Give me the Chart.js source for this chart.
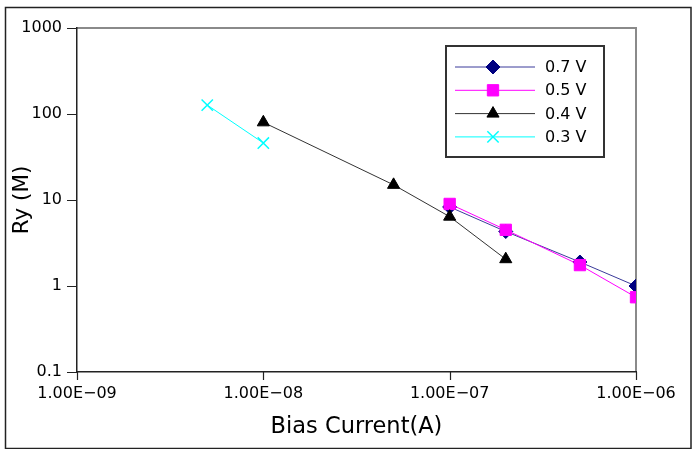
<!DOCTYPE html>
<html>
<head>
<meta charset="utf-8">
<script src="https://cdn.jsdelivr.net/npm/chart.js@4"></script>
<style>
  html, body { margin: 0; padding: 0; background: #fff; }
  #wrap { width: 696px; height: 449px; }
</style>
</head>
<body>
<div id="wrap"><canvas id="chart1" width="696" height="449"></canvas></div>
<script>
// Bias current (A) for each series
var current07 = [1e-7, 2e-7, 5e-7, 1e-6];
var current05 = [1e-7, 2e-7, 5e-7, 1e-6];
var current04 = [1e-8, 5e-8, 1e-7, 2e-7];
var current03 = [5e-9, 1e-8];

// Ry (M) values
var ry07 = [8.3, 4.3, 1.9, 1.0];
var ry05 = [9.0, 4.5, 1.75, 0.74];
var ry04 = [80, 15, 6.4, 2.05];
var ry03 = [127, 46];

var seriesNames = ["0.7 V", "0.5 V", "0.4 V", "0.3 V"];
var xTicks = [1e-9, 1e-8, 1e-7, 1e-6];
var xTickLabels = ["1.00E\u221209", "1.00E\u221208", "1.00E\u221207", "1.00E\u221206"];
var yTicks = [0.1, 1, 10, 100, 1000];
var yTickLabels = ["0.1", "1", "10", "100", "1000"];

function toPoints(xs, ys) {
  return xs.map(function (x, i) { return { x: x, y: ys[i] }; });
}

const FONT = "'DejaVu Sans', Verdana, sans-serif";

const ctx1 = document.getElementById("chart1");

var myChart = new Chart(ctx1, {
  type: "scatter",
  data: {
    datasets: [
      {
        label: seriesNames[0],
        data: toPoints(current07, ry07),
        showLine: true,
        borderColor: "#3a3a9a",
        borderWidth: 1,
        pointStyle: "rectRot",
        pointRadius: 7,
        pointBackgroundColor: "#000080",
        pointBorderColor: "#000080",
        order: 4,
      },
      {
        label: seriesNames[1],
        data: toPoints(current05, ry05),
        showLine: true,
        borderColor: "#ff00ff",
        borderWidth: 1,
        pointStyle: "rect",
        pointRadius: 8,
        pointBackgroundColor: "#ff00ff",
        pointBorderColor: "#ff00ff",
        order: 3,
      },
      {
        label: seriesNames[2],
        data: toPoints(current04, ry04),
        showLine: true,
        borderColor: "#333333",
        borderWidth: 1,
        pointStyle: "triangle",
        pointRadius: 7,
        pointBackgroundColor: "#000000",
        pointBorderColor: "#000000",
        order: 2,
      },
      {
        label: seriesNames[3],
        data: toPoints(current03, ry03),
        showLine: true,
        borderColor: "#00ffff",
        borderWidth: 1,
        pointStyle: "crossRot",
        pointRadius: 8,
        pointBorderWidth: 1.5,
        pointBackgroundColor: "#00ffff",
        pointBorderColor: "#00ffff",
        order: 1,
      },
    ],
  },
  options: {
    responsive: false,
    animation: false,
    layout: {
      padding: { top: 28, right: 60, left: 0, bottom: 0 },
    },
    plugins: {
      legend: { display: false },
      tooltip: { enabled: false },
    },
    scales: {
      x: {
        type: "logarithmic",
        min: 1e-9,
        max: 1e-6,
        afterBuildTicks: function (scale) {
          scale.ticks = xTicks.map(function (v) { return { value: v }; });
        },
        afterFit: function (scale) {
          scale.height = 77;
        },
        border: { color: "#222", width: 1.5 },
        grid: { display: false },
        ticks: {
          autoSkip: false,
          maxRotation: 0,
          padding: 4,
          color: "#000",
          font: { family: FONT, size: 16 },
          callback: function (value) {
            return xTickLabels[xTicks.indexOf(value)];
          },
        },
        title: {
          display: true,
          text: "Bias Current(A)",
          color: "#000",
          font: { family: FONT, size: 22.5 },
          padding: { bottom: 8 },
        },
      },
      y: {
        type: "logarithmic",
        min: 0.1,
        max: 1000,
        afterBuildTicks: function (scale) {
          scale.ticks = yTicks.map(function (v) { return { value: v }; });
        },
        afterFit: function (scale) {
          scale.width = 77;
        },
        border: { color: "#222", width: 1.5 },
        grid: { display: false },
        ticks: {
          autoSkip: false,
          padding: 7,
          color: "#000",
          font: { family: FONT, size: 16 },
          callback: function (value) {
            return yTickLabels[yTicks.indexOf(value)];
          },
        },
        title: {
          display: true,
          text: "Ry (M)",
          color: "#000",
          font: { family: FONT, size: 21.5 },
          padding: { top: 10 },
        },
      },
    },
  },
  plugins: [
    {
      id: "frameAndLegend",
      beforeDraw: (chart) => {
        const { ctx, chartArea: { left, right, top, bottom } } = chart;
        ctx.save();
        ctx.fillStyle = "#fff";
        ctx.fillRect(0, 0, chart.width, chart.height);
        //Outer border round the whole picture
        ctx.strokeStyle = "#222";
        ctx.lineWidth = 1.5;
        ctx.strokeRect(5.5, 7.5, 685.5, 441);
        //Top and right side of plot area in gray
        ctx.strokeStyle = "#8a8a8a";
        ctx.lineWidth = 2;
        ctx.beginPath();
        ctx.moveTo(left, top);
        ctx.lineTo(right, top);
        ctx.lineTo(right, bottom);
        ctx.stroke();
        ctx.restore();
      },
      afterDraw: (chart) => {
        const { ctx, chartArea: { left, bottom } } = chart;
        const xs = chart.scales.x, ys = chart.scales.y;
        ctx.save();
        //Tick marks outside the plot area
        ctx.strokeStyle = "#222";
        ctx.lineWidth = 1.2;
        ctx.beginPath();
        xTicks.forEach(function (v) {
          const px = Math.round(xs.getPixelForValue(v)) + 0.5;
          ctx.moveTo(px, bottom);
          ctx.lineTo(px, bottom + 8);
        });
        yTicks.forEach(function (v) {
          const py = Math.round(ys.getPixelForValue(v)) + 0.5;
          ctx.moveTo(left - 10, py);
          ctx.lineTo(left, py);
        });
        ctx.stroke();

        //Legend box drawn inside the plot area
        const bx = 446, by = 46, bw = 158, bh = 111;
        ctx.fillStyle = "#fff";
        ctx.fillRect(bx, by, bw, bh);
        ctx.strokeStyle = "#333";
        ctx.lineWidth = 2;
        ctx.strokeRect(bx, by, bw, bh);
        chart.data.datasets.forEach(function (ds, i) {
          const yy = 67 + i * 23.3;
          ctx.strokeStyle = ds.borderColor;
          ctx.lineWidth = 1;
          ctx.beginPath();
          ctx.moveTo(455, yy);
          ctx.lineTo(535, yy);
          ctx.stroke();
          ctx.fillStyle = ds.pointBackgroundColor;
          ctx.strokeStyle = ds.pointBorderColor;
          ctx.lineWidth = ds.pointBorderWidth || 1;
          Chart.helpers.drawPoint(ctx, {
            pointStyle: ds.pointStyle,
            radius: ds.pointRadius,
            borderWidth: ds.pointBorderWidth || 1,
            rotation: 0,
          }, 493, yy);
          ctx.fillStyle = "#000";
          ctx.font = "16px " + FONT;
          ctx.textBaseline = "middle";
          ctx.fillText(ds.label, 545, yy + 1);
        });
        ctx.restore();
      },
    },
  ],
});
</script>
</body>
</html>
